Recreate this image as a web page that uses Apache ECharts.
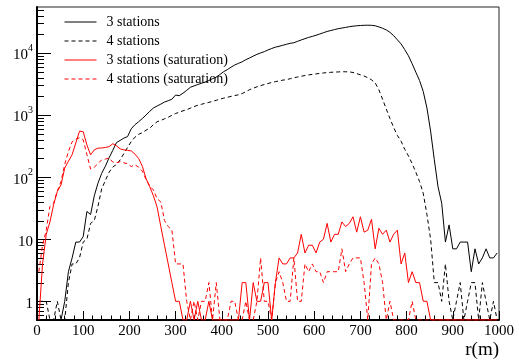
<!DOCTYPE html>
<html>
<head>
<meta charset="utf-8">
<script src="https://cdn.jsdelivr.net/npm/echarts@6/dist/echarts.min.js"></script>
<style>
html,body{margin:0;padding:0;background:#fff;}
#chart{width:519px;height:364px;}
</style>
</head>
<body>
<div id="chart"></div>
<script>
// Histogram binning: 125 bins of 8 m between 0 and 1000 m (values at bin centres)
const BIN_COUNT = 125, BIN_WIDTH = 8;
const R = Array.from({length: BIN_COUNT}, (_, i) => BIN_WIDTH / 2 + BIN_WIDTH * i);

const SERIES_NAMES = ['3 stations', '4 stations', '3 stations (saturation)', '4 stations (saturation)'];

const stations3 = [
  0,0,0,0,0,0,0,1,3,5,
  9,9,11,28,25,50,80,115,150,205,
  270,360,390,425,450,600,700,780,880,1000,
  1150,1300,1400,1500,1620,1700,1800,2100,2050,2250,
  2500,2800,2950,3100,3250,3400,3600,3850,4080,4500,
  5000,5400,5900,6400,6800,7200,7800,8300,8900,9500,
  10000,10500,11200,11800,12400,12800,13300,13800,14300,14600,
  15400,16200,17000,17800,18500,19300,20200,21200,22200,23000,
  23800,24600,25200,25800,26500,27000,27400,27700,27900,28000,
  27900,27400,26300,25000,23500,21500,19000,16300,14000,11300,
  9000,6700,4900,3600,2400,1300,550,190,70,38,
  9,17,7,7,9,9,9,3,7,4,
  5,7,5,5,6
];
const stations4 = [
  1,1,1,0,0,1,0,0,2,4,
  4,5,9,10,18,20,34,65,88,120,
  145,160,190,240,300,375,440,490,520,570,
  615,700,780,820,870,920,990,1060,1110,1170,
  1220,1290,1370,1440,1490,1550,1600,1660,1730,1800,
  1870,1930,2000,2060,2120,2220,2380,2560,2700,2850,
  2980,3100,3220,3350,3450,3550,3650,3720,3850,3980,
  4100,4220,4330,4430,4520,4600,4680,4760,4830,4880,
  4920,4950,4980,4980,4950,4850,4650,4450,4250,4000,
  3700,3300,2550,1800,1250,880,630,470,380,280,
  220,165,120,85,55,25,10,2,2,1,
  4,1,0,1,2,0,1,2,2,0,
  2,1,0,1,0
];
const stations3Sat = [
  0,4,12,19,36,59,75,140,180,230,
  355,550,540,330,229,275,293,295,300,310,
  345,320,285,275,270,265,235,200,150,95,
  70,50,33,16,8,4,2,1,1,0,
  0,1,0,1,0,0,1,0,0,0,
  0,0,0,0,0,2,2,0,2,1,
  1,2,2,0,2,5,4,4,5,5,
  6,12,6,8,8,6,9,10,18,9,
  12,12,19,16,18,23,13,23,13,14,
  21,7,15,12,14,9,12,14,4,6,
  2,3,2,2,1,1,0,0,0,0,
  0,0,0,0,0,0,0,0,0,0,
  0,0,0,0,0
];
const stations4Sat = [
  3,8,14,34,38,60,85,160,260,370,
  410,430,400,230,135,145,165,190,195,204,
  175,170,178,170,165,148,158,145,125,92,
  72,62,45,40,20,16,14,4,4,4,
  1,0,1,0,1,1,2,0,2,0,
  0,0,1,1,0,0,1,0,0,1,
  5,1,1,0,2,3,2,1,1,5,
  1,1,4,3,4,3,3,2,3,3,
  3,3,7,3,4,5,5,5,2,0,
  4,5,4,2,0,1,0,0,0,0,
  0,1,0,0,0,0,0,0,0,0,
  0,0,0,0,0,0,0,0,0,0,
  0,0,0,0,0
];

// Axis settings
const X_MIN = 0, X_MAX = 1000, X_INTERVAL = 100;
const Y_MIN = 0.5, Y_MAX = 55000;
const Y_TICK_DECADES = [-1, 0, 1, 2, 3, 4];
const Y_TICK_MULTS = [1, 2, 3, 4, 5, 6, 7, 8, 9];
const X_TITLE = 'r(m)';

const FONT = '"Liberation Serif", "DejaVu Serif", serif';

// Empty bins are drawn on the bottom edge of the frame (as ROOT does on a log scale)
function toPoints(arr) {
  return arr.map((v, i) => [R[i], v > 0 ? v : Y_MIN]);
}

const yTicks = [];
Y_TICK_DECADES.forEach(d => {
  Y_TICK_MULTS.forEach(m => {
    const v = m * Math.pow(10, d);
    if (v > Y_MIN * 1.0001 && v < Y_MAX) yTicks.push([X_MIN, v, m === 1 ? 14 : 7]);
  });
});

function yLabel(v) {
  const k = Math.round(Math.log10(v));
  const p = Math.pow(10, k);
  if (Math.abs(v - p) / p > 1e-6 || k < 0) return '';
  if (k === 0) return '{b|1}';
  if (k === 1) return '{b|10}';
  return '{b|10}{s|' + k + '}';
}

const chart = echarts.init(document.getElementById('chart'), null, {renderer: 'canvas'});

const lineBase = {type: 'line', symbol: 'none', showSymbol: false, animation: false, clip: true};

chart.setOption({
  animation: false,
  backgroundColor: '#fff',
  grid: {left: 37, right: 20, top: 7, bottom: 44, show: true, borderColor: '#222', borderWidth: 1, backgroundColor: 'transparent'},
  legend: {
    data: SERIES_NAMES,
    orient: 'vertical',
    left: 64, top: 15,
    padding: 0,
    itemWidth: 32, itemHeight: 13, itemGap: 5,
    itemStyle: {opacity: 0},
    lineStyle: {width: 1},
    textStyle: {fontFamily: FONT, fontSize: 14, color: '#000', padding: [0, 0, 0, 5]},
    selectedMode: false
  },
  xAxis: {
    type: 'value', min: X_MIN, max: X_MAX, interval: X_INTERVAL,
    name: X_TITLE, nameLocation: 'end', nameGap: 0,
    nameTextStyle: {fontFamily: FONT, fontSize: 19, color: '#000', align: 'right', verticalAlign: 'top', padding: [21, 0, 0, 0]},
    axisLine: {show: true, onZero: false, lineStyle: {color: '#000', width: 2}},
    axisTick: {show: true, inside: true, length: 9, lineStyle: {color: '#000', width: 1}},
    minorTick: {show: true, splitNumber: 5, length: 4.5, lineStyle: {color: '#000', width: 1}},
    axisLabel: {fontFamily: FONT, fontSize: 15, color: '#000', margin: 4, formatter: v => String(v)},
    splitLine: {show: false}
  },
  yAxis: {
    type: 'log', logBase: 10, min: Y_MIN, max: Y_MAX,
    axisLine: {show: true, lineStyle: {color: '#000', width: 2}},
    axisTick: {show: false},
    minorTick: {show: false},
    splitLine: {show: false},
    axisLabel: {
      margin: 4,
      formatter: yLabel,
      rich: {
        b: {fontFamily: FONT, fontSize: 15, color: '#000', lineHeight: 20, verticalAlign: 'bottom'},
        s: {fontFamily: FONT, fontSize: 10, color: '#000', lineHeight: 12, verticalAlign: 'top'}
      }
    }
  },
  series: [
    Object.assign({}, lineBase, {name: SERIES_NAMES[0], data: toPoints(stations3), lineStyle: {color: '#000', width: 1, type: 'solid'}, itemStyle: {color: '#000'}}),
    Object.assign({}, lineBase, {name: SERIES_NAMES[1], data: toPoints(stations4), lineStyle: {color: '#000', width: 1, type: [4, 3]}, itemStyle: {color: '#000'}}),
    Object.assign({}, lineBase, {name: SERIES_NAMES[2], data: toPoints(stations3Sat), lineStyle: {color: '#ff0000', width: 1, type: 'solid'}, itemStyle: {color: '#ff0000'}}),
    Object.assign({}, lineBase, {name: SERIES_NAMES[3], data: toPoints(stations4Sat), lineStyle: {color: '#ff0000', width: 1, type: [4, 3]}, itemStyle: {color: '#ff0000'}}),
    {
      type: 'custom', silent: true, animation: false, clip: false, z: 3,
      data: yTicks,
      encode: {x: 0, y: 1},
      renderItem: function (params, api) {
        const p = api.coord([api.value(0), api.value(1)]);
        const len = api.value(2);
        const y = Math.round(p[1]) + 0.5;
        return {type: 'line', shape: {x1: p[0], y1: y, x2: p[0] + len, y2: y}, style: {stroke: '#000', lineWidth: 1}};
      }
    }
  ]
});
</script>
</body>
</html>
